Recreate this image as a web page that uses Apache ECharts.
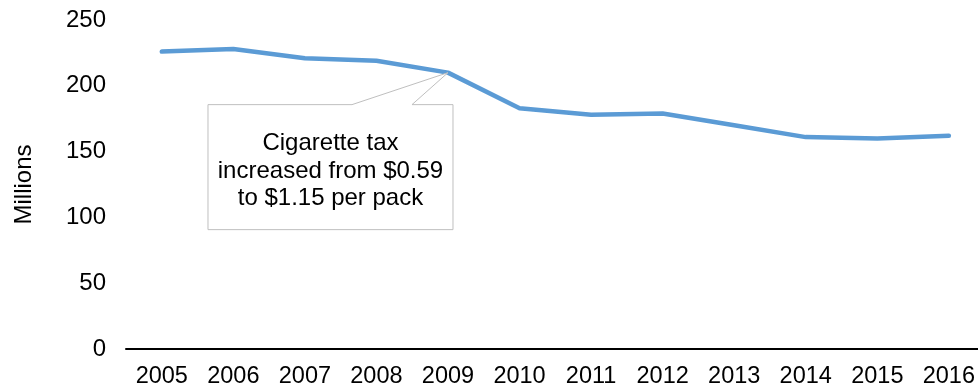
<!DOCTYPE html>
<html><head><meta charset="utf-8">
<script src="https://cdn.jsdelivr.net/npm/echarts@6/dist/echarts.min.js"></script>
<style>html,body{margin:0;padding:0;background:#fff}#c{width:978px;height:390px}</style>
</head><body><div id="c"></div>
<script>
var years = ['2005','2006','2007','2008','2009','2010','2011','2012','2013','2014','2015','2016'];
var packs = [226, 228, 221, 219, 210, 183, 178, 179, 170, 161, 160, 162];
var yTicks = {min: 0, max: 250, interval: 50};
var noteIndex = 4;
var noteLines = ['Cigarette tax', 'increased from $0.59', 'to $1.15 per pack'];

var FONT = '"Liberation Sans", Arial, sans-serif';
var idx = years.map(function (y, i) { return i; });
var chart = echarts.init(document.getElementById('c'), null, {renderer: 'canvas'});
chart.setOption({
  animation: false,
  backgroundColor: '#fff',
  grid: {left: 126, right: 0, top: 20, bottom: 41, containLabel: false},
  xAxis: {
    type: 'value', min: -0.5, max: years.length - 0.6,
    axisLine: {onZero: false, lineStyle: {color: '#000', width: 2}},
    axisTick: {show: false, customValues: idx},
    splitLine: {show: false},
    axisLabel: {color: '#000', fontSize: 23.5, fontFamily: FONT, margin: 16, customValues: idx,
      showMinLabel: true, showMaxLabel: true,
      formatter: function (v) { return years[Math.round(v)] || ''; }}
  },
  yAxis: {
    type: 'value', min: yTicks.min, max: yTicks.max, interval: yTicks.interval,
    name: 'Millions', nameLocation: 'middle', nameGap: 90, nameRotate: 90,
    nameTextStyle: {color: '#000', fontSize: 24, fontFamily: FONT},
    axisLine: {show: false}, axisTick: {show: false}, splitLine: {show: false},
    axisLabel: {color: '#000', fontSize: 24, fontFamily: FONT, margin: 20}
  },
  series: [{
    type: 'line', data: packs.map(function (v, i) { return [i, v]; }), showSymbol: false, symbol: 'none',
    lineStyle: {color: '#5B9BD5', width: 4.5, cap: 'round', join: 'round'}
  }]
});

var tip = chart.convertToPixel({gridIndex: 0}, [noteIndex, packs[noteIndex]]);
var bx = tip[0] - 240, by = tip[1] + 32, bw = 245, bh = 125;
chart.setOption({
  graphic: [{
    type: 'polygon', z: 10,
    shape: {points: [[bx, by], [tip[0] - 96, by], tip, [tip[0] - 36, by], [bx + bw, by], [bx + bw, by + bh], [bx, by + bh]]},
    style: {fill: '#fff', stroke: '#BFBFBF', lineWidth: 1}
  }, {
    type: 'text', z: 11,
    x: bx + bw / 2, y: by + 25,
    style: {text: noteLines.join('\n'), font: '24px ' + FONT, fill: '#000', align: 'center', verticalAlign: 'top', lineHeight: 27.5}
  }]
});
</script></body></html>
